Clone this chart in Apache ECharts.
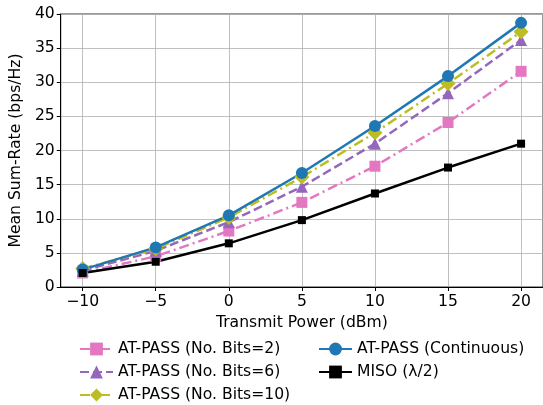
<!DOCTYPE html>
<html><head><meta charset="utf-8">
<script src="https://cdn.jsdelivr.net/npm/echarts@6/dist/echarts.min.js"></script>
<style>html,body{margin:0;padding:0;background:#fff}#c{width:543px;height:405px}</style>
</head><body><div id="c"></div>
<script>
const powers = [-10, -5, 0, 5, 10, 15, 20];
const xTicks = [-10, -5, 0, 5, 10, 15, 20];
const bits2 = [2.05, 4.5, 8.2, 12.4, 17.7, 24.1, 31.6];
const bits6 = [2.4, 5.3, 9.5, 14.7, 21.0, 28.4, 36.2];
const bits10 = [2.7, 5.6, 10.2, 16.1, 22.6, 29.8, 37.4];
const continuous = [2.55, 5.8, 10.5, 16.7, 23.6, 30.9, 38.7];
const miso = [2.05, 3.7, 6.4, 9.8, 13.7, 17.5, 21.0];
const names = ['AT-PASS (No. Bits=2)', 'AT-PASS (No. Bits=6)', 'AT-PASS (No. Bits=10)', 'AT-PASS (Continuous)', 'MISO (λ/2)'];

const font = 'DejaVu Sans';
const fs = 15.6;
const pair = arr => powers.map((p, i) => [p, arr[i]]);
const minus = v => String(v).replace('-', '\u2212');
function mk(name, data, color, symbol, size, type, width) {
  return {
    name, type: 'line', data: pair(data), symbol, symbolSize: size,
    itemStyle: { color }, lineStyle: { color, width, type },
    showSymbol: true, animation: false, z: 3
  };
}
const legendText = { fontFamily: font, fontSize: fs, color: '#000', lineHeight: 16 };
const chart = echarts.init(document.getElementById('c'));
chart.setOption({
  animation: false,
  textStyle: { fontFamily: font },
  grid: { left: 60, top: 14, width: 485, height: 273, show: true, borderColor: '#333', borderWidth: 1, backgroundColor: 'transparent' },
  xAxis: {
    type: 'value', min: -11.5, max: 21.5,
    name: 'Transmit Power (dBm)', nameLocation: 'middle', nameGap: 27,
    nameTextStyle: { fontFamily: font, fontSize: fs, color: '#000' },
    axisLine: { onZero: false, lineStyle: { color: '#000', width: 1 } },
    axisTick: { length: 4, customValues: xTicks, lineStyle: { color: '#000' } },
    axisLabel: { customValues: xTicks, fontFamily: font, fontSize: fs, color: '#000', margin: 7, formatter: minus },
    splitLine: { show: true, lineStyle: { color: '#b0b0b0', width: 0.8 } }
  },
  yAxis: {
    type: 'value', min: 0, max: 40, interval: 5,
    name: 'Mean Sum-Rate (bps/Hz)', nameLocation: 'middle', nameGap: 33,
    nameTextStyle: { fontFamily: font, fontSize: fs, color: '#000' },
    axisLine: { show: true, onZero: false, lineStyle: { color: '#000', width: 1 } },
    axisTick: { show: true, length: 4, lineStyle: { color: '#000' } },
    axisLabel: { fontFamily: font, fontSize: fs, color: '#000', margin: 6 },
    splitLine: { show: true, lineStyle: { color: '#b0b0b0', width: 0.8 } }
  },
  legend: [
    { data: names.slice(0, 3), orient: 'vertical', left: 79, top: 341, padding: 0, itemGap: 7, itemWidth: 33, itemHeight: 16,
      textStyle: legendText },
    { data: names.slice(3), orient: 'vertical', left: 318, top: 341, padding: 0, itemGap: 7, itemWidth: 33, itemHeight: 16,
      textStyle: legendText }
  ],
  series: [
    mk(names[0], bits2, '#e377c2', 'rect', 11, [10, 4, 2, 4], 2.5),
    mk(names[1], bits6, '#9467bd', 'triangle', 12, [9, 4], 2.5),
    mk(names[2], bits10, '#bcbd22', 'diamond', 15, [10, 4, 2, 4], 2.5),
    mk(names[3], continuous, '#1f77b4', 'circle', 12, 'solid', 2.5),
    mk(names[4], miso, '#000000', 'rect', 8, 'solid', 2.5)
  ]
});
</script></body></html>
